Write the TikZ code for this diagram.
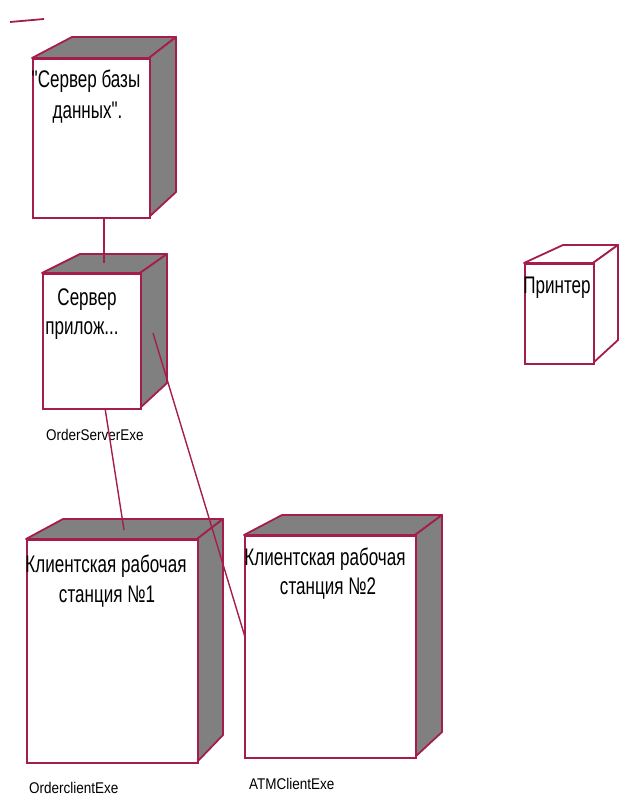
\documentclass[tikz,border=0pt]{standalone}
\usepackage{fontspec}
\setmainfont{Liberation Sans}
\newfontfamily\nfont[FakeStretch=0.71]{Liberation Sans}
\newfontfamily\lfont[FakeStretch=0.87]{Liberation Sans}
\definecolor{edge}{RGB}{165,30,75}
\definecolor{side}{RGB}{128,128,128}
\begin{document}
\begin{tikzpicture}[x=1pt,y=-1pt,
  face/.style={draw=edge, line width=1.8pt, fill=white, inner sep=0pt, anchor=north west},
  shadeface/.style={draw=edge, line width=1.8pt, fill=side, line join=round},
  whiteface/.style={draw=edge, line width=1.8pt, fill=white, line join=round},
  link/.style={draw=edge, line width=1.4pt},
  lbl/.style={font=\nfont\fontsize{24}{28}\selectfont, anchor=base, inner sep=0pt},
  small/.style={font=\lfont\fontsize{15.5}{19}\selectfont, anchor=base west, inner sep=0pt}]
\useasboundingbox (0,0) rectangle (619,797);

% stray mark
\coordinate (m1) at (10,22);
\coordinate (m2) at (44,19);
\draw[link, line width=1.8pt] (m1) -- (m2);

% Database server
\path[shadeface] (32,58) -- (72,37) -- (176,37) -- (149,58) -- cycle;
\path[shadeface] (149,58) -- (176,37) -- (176,192) -- (149,217) -- cycle;
\node[face, minimum width=117pt, minimum height=159pt] (db) at (32,58) {};
\node[lbl] (dbt1) at (86,88) {"Сервер базы};
\node[lbl] (dbt2) at (87.5,118) {данных".};

% Application server
\path[shadeface] (42,273) -- (80,254) -- (167,254) -- (140,273) -- cycle;
\path[shadeface] (140,273) -- (167,254) -- (167,383) -- (140,408) -- cycle;
\node[face, minimum width=98pt, minimum height=135pt] (app) at (42,273) {};
\node[lbl] (appt1) at (87,305) {Сервер};
\node[lbl] (appt2) at (82,334) {прилож...};
\node[small] (appl) at (46,440) {OrderServerExe};

% Printer
\path[whiteface] (524,263) -- (563,245) -- (618,245) -- (593,263) -- cycle;
\path[whiteface] (593,263) -- (618,245) -- (618,340) -- (593,363) -- cycle;
\node[face, minimum width=69pt, minimum height=100pt] (prn) at (524,263) {};
\node[lbl] (prnt) at (557,293) {Принтер};

% Client 1
\path[shadeface] (26,539) -- (63,519) -- (223,519) -- (197,539) -- cycle;
\path[shadeface] (197,539) -- (223,519) -- (223,735) -- (197,762) -- cycle;
\node[face, minimum width=171pt, minimum height=223pt] (cl1) at (26,539) {};
\node[lbl] (cl1t1) at (106,572) {Клиентская рабочая};
\node[lbl] (cl1t2) at (107,602) {станция №1};
\node[small] (cl1l) at (29,793) {OrderclientExe};

% Client 2
\path[shadeface] (244,535) -- (282,515) -- (442,515) -- (415,535) -- cycle;
\path[shadeface] (415,535) -- (442,515) -- (442,732) -- (415,757) -- cycle;
\node[face, minimum width=171pt, minimum height=222pt] (cl2) at (244,535) {};
\node[lbl] (cl2t1) at (325,565) {Клиентская рабочая};
\node[lbl] (cl2t2) at (328,594) {станция №2};
\node[small] (cl2l) at (249,789) {ATMClientExe};

% connectors
\coordinate (dbS) at (104,217);
\coordinate (appN) at (104,263);
\coordinate (appS) at (105,408);
\coordinate (cl1N) at (124,530);
\coordinate (appE) at (153,333);
\coordinate (cl2W) at (245,637);
\draw[link] (dbS) -- (appN);
\draw[link] (appS) -- (cl1N);
\draw[link] (appE) -- (cl2W);
\end{tikzpicture}
\end{document}
